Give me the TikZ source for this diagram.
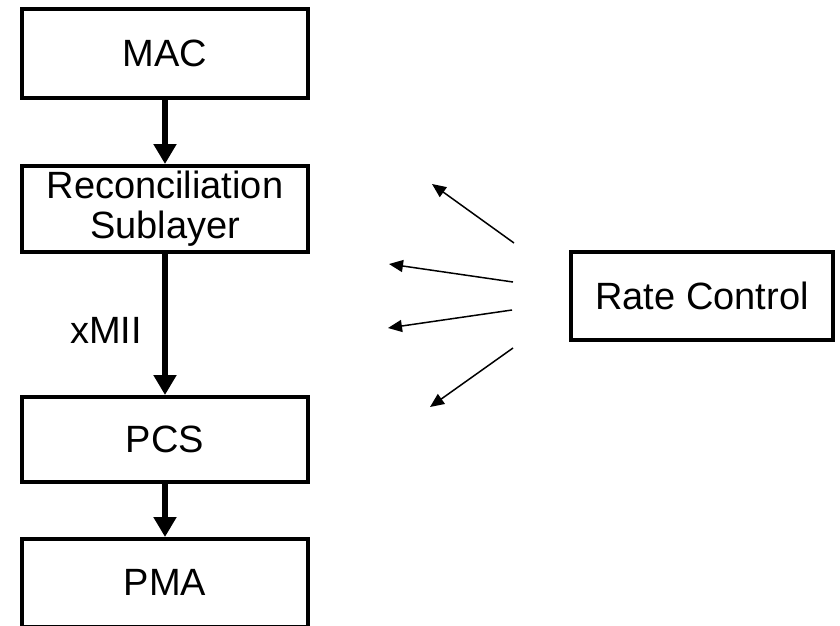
\documentclass[tikz,border=0pt]{standalone}
\usepackage{fontspec}
\setmainfont{Liberation Sans}
\usetikzlibrary{arrows.meta}
\begin{document}
\begin{tikzpicture}[x=1pt,y=-1pt,
  label font/.style={font=\fontsize{38}{40}\selectfont},
  layer/.style={draw=black,line width=4pt,rectangle,minimum width=286pt,
    inner sep=0pt,align=center,label font},
  flow/.style={line width=6pt,-{Triangle[width=22pt,length=20pt]}},
  signal/.style={line width=1.5pt,-{Triangle[width=12pt,length=14pt]}}]
\useasboundingbox (0,0) rectangle (840,625);
\begin{scope}
\clip (0,0) rectangle (840,625);
\node[layer,minimum height=89pt] (mac) at (165,53.5) {MAC};
\node[layer,minimum height=86pt] (rs) at (165,209) {Reconciliation\\Sublayer};
\node[layer,minimum height=85pt] (pcs) at (165,439.5) {PCS};
\node[layer,minimum height=87.5pt] (pma) at (165,582.75) {PMA};
\end{scope}
\node[layer,minimum width=262pt,minimum height=88pt] (rc) at (702,296) {Rate Control};
\node[label font,inner sep=0pt] (xmii) at (106,330) {xMII};

\draw[flow] (mac.south) -- (rs.north);
\draw[flow] (rs.south) -- (pcs.north);
\draw[flow] (pcs.south) -- (pma.north);

% fan of rate-control signals
\coordinate (s1) at (514,243); \coordinate (t1) at (432,184);
\coordinate (s2) at (513,282); \coordinate (t2) at (389,264);
\coordinate (s3) at (512,310); \coordinate (t3) at (388,328);
\coordinate (s4) at (513,348); \coordinate (t4) at (430,407);
\draw[signal] (s1) -- (t1);
\draw[signal] (s2) -- (t2);
\draw[signal] (s3) -- (t3);
\draw[signal] (s4) -- (t4);
\end{tikzpicture}
\end{document}
